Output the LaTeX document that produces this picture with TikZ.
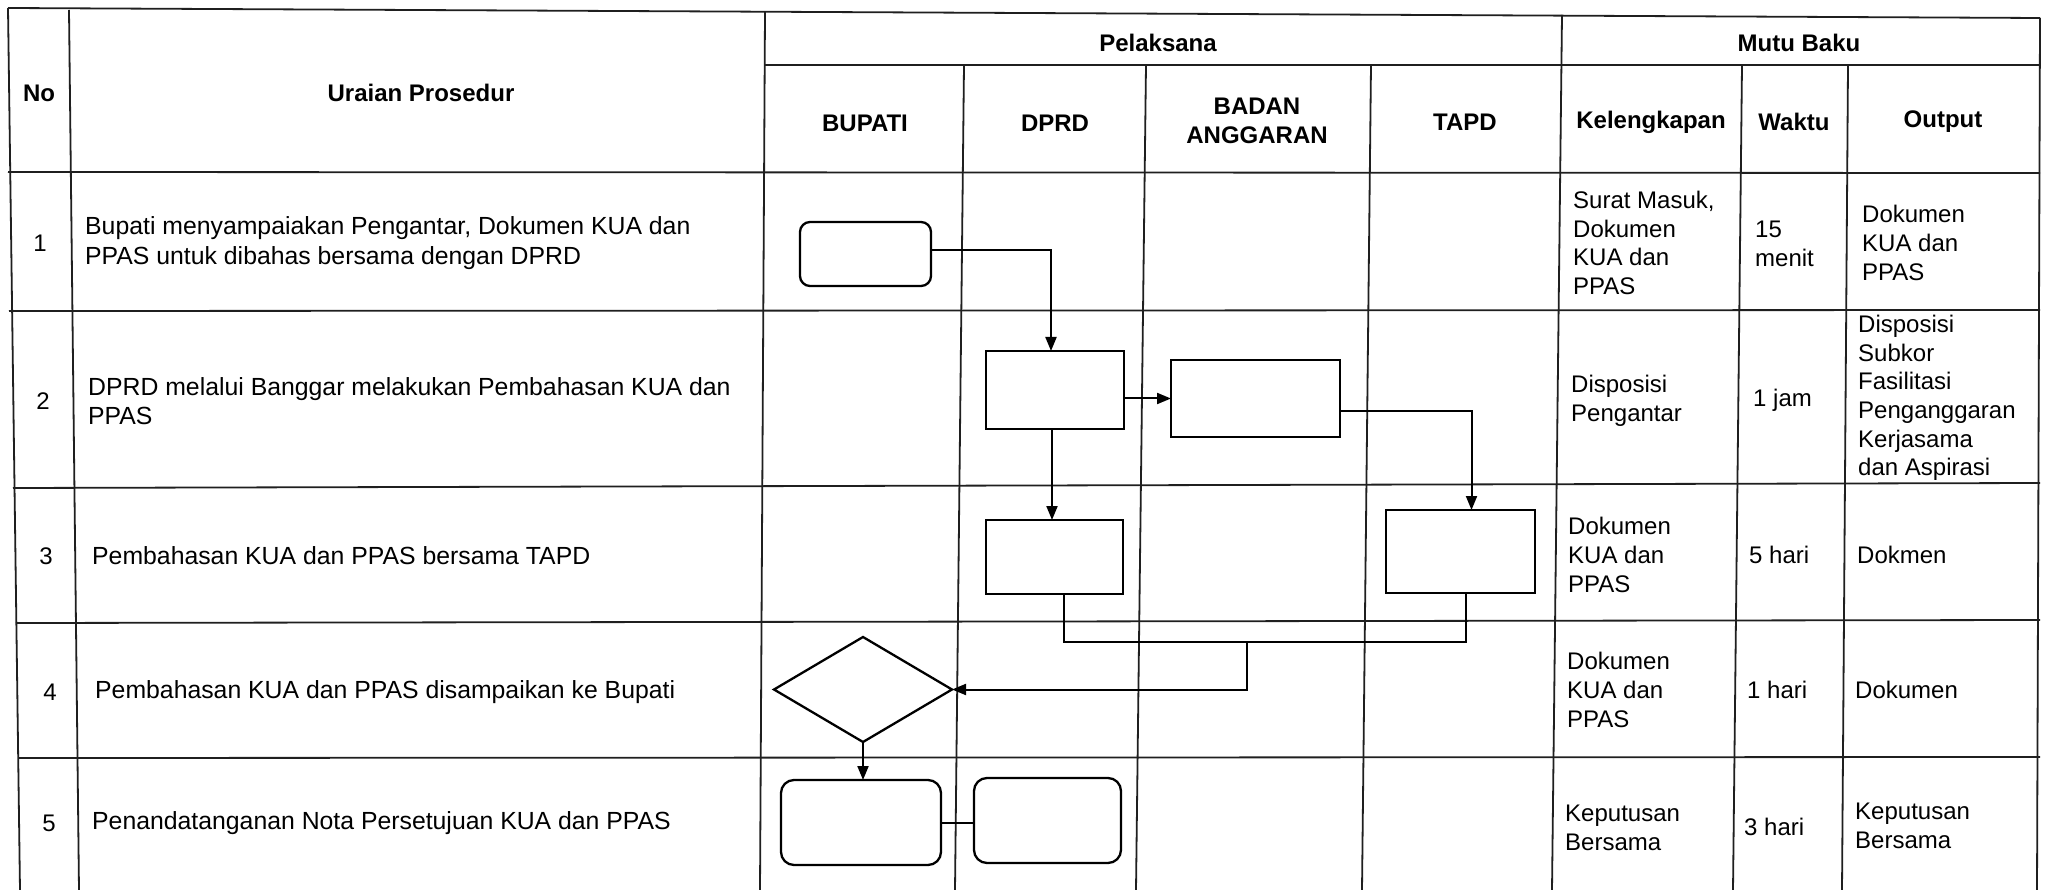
\documentclass[tikz,border=0pt]{standalone}
\usepackage{fontspec}
\setmainfont{Liberation Sans}
\usetikzlibrary{shapes.geometric,arrows.meta}
\begin{document}
\begin{tikzpicture}[x=1pt,y=-1pt,
  tline/.style={line width=1.8pt, draw=black!88},
  hdr/.style={font=\fontsize{24}{29}\selectfont\bfseries, align=center, inner sep=0pt},
  txt/.style={font=\fontsize{24}{28.6}\selectfont, align=left, inner sep=0pt, anchor=west},
  utxt/.style={txt, font=\fontsize{24.8}{29.5}\selectfont},
  num/.style={font=\fontsize{24}{28.6}\selectfont, inner sep=0pt},
  box/.style={draw, line width=2.3pt, inner sep=0pt, outer sep=0pt},
  rbox/.style={box, rounded corners=13pt},
  dbox/.style={box, diamond},
  conn/.style={line width=2pt},
  arr/.style={line width=2pt, -{Triangle[length=14pt,width=11pt]}}
]
\useasboundingbox[fill=white] (0,0) rectangle (2051,890);

% ---------- table grid ----------
\draw[tline] (8,8) -- (2040,18);
\draw[tline] (765,65) -- (2040,65);
\draw[tline] (8,172) -- (2040,173);
\draw[tline] (9,311) -- (2040,310);
\draw[tline] (13,488) -- (2040,483);
\draw[tline] (16,623) -- (2040,620);
\draw[tline] (19,758) -- (2040,757);

\draw[tline] (8,8) -- (20,890);
\draw[tline] (69,10) -- (79,890);
\draw[tline] (765,12) -- (760,890);
\draw[tline] (964,65) -- (955,890);
\draw[tline] (1146,65) -- (1136,890);
\draw[tline] (1371,65) -- (1362,890);
\draw[tline] (1562,15) -- (1552,890);
\draw[tline] (1742,65) -- (1733,890);
\draw[tline] (1848,65) -- (1842,890);
\draw[tline] (2040,18) -- (2037,890);

% ---------- header ----------
\node[hdr] (hno) at (39,93) {No};
\node[hdr] (hur) at (421,93) {Uraian Prosedur};
\node[hdr] (hpel) at (1158,43) {Pelaksana};
\node[hdr] (hmb) at (1799,43) {Mutu Baku};
\node[hdr] (hbup) at (865,123) {BUPATI};
\node[hdr] (hdprd) at (1055,123) {DPRD};
\node[hdr] (hbad) at (1257,121) {BADAN\\ANGGARAN};
\node[hdr] (htapd) at (1465,122) {TAPD};
\node[hdr] (hkel) at (1651,122) {Kelengkapan};
\node[hdr] (hwak) at (1794,122) {Waktu};
\node[hdr] (hout) at (1943,122) {Output};

% ---------- rows: numbers and procedures ----------
\node[num] (n1) at (40,243) {1};
\node[num] (n2) at (43,401) {2};
\node[num] (n3) at (46,556) {3};
\node[num] (n4) at (50,692) {4};
\node[num] (n5) at (49,823) {5};

\node[utxt] (u1) at (85,243) {Bupati menyampaiakan Pengantar, Dokumen KUA dan\\PPAS untuk dibahas bersama dengan DPRD};
\node[utxt] (u2) at (88,401) {DPRD melalui Banggar melakukan Pembahasan KUA dan\\PPAS};
\node[utxt] (u3) at (92,556) {Pembahasan KUA dan PPAS bersama TAPD};
\node[utxt] (u4) at (95,692) {Pembahasan KUA dan PPAS disampaikan ke Bupati};
\node[utxt] (u5) at (92,823) {Penandatanganan Nota Persetujuan KUA dan PPAS};

% ---------- Mutu Baku ----------
\node[txt] (k1) at (1573,243) {Surat Masuk,\\Dokumen\\KUA dan\\PPAS};
\node[txt] (w1) at (1755,244) {15\\menit};
\node[txt] (o1) at (1862,243) {Dokumen\\KUA dan\\PPAS};

\node[txt] (k2) at (1571,401) {Disposisi\\Pengantar};
\node[txt] (w2) at (1753,400) {1 jam};
\node[txt] (o2) at (1858,398) {Disposisi\\Subkor\\Fasilitasi\\Penganggaran\\Kerjasama\\dan Aspirasi};

\node[txt] (k3) at (1568,555) {Dokumen\\KUA dan\\PPAS};
\node[txt] (w3) at (1749,555) {5 hari};
\node[txt] (o3) at (1857,555) {Dokmen};

\node[txt] (k4) at (1567,690) {Dokumen\\KUA dan\\PPAS};
\node[txt] (w4) at (1747,690) {1 hari};
\node[txt] (o4) at (1855,690) {Dokumen};

\node[txt] (k5) at (1565,828) {Keputusan\\Bersama};
\node[txt] (w5) at (1744,827) {3 hari};
\node[txt] (o5) at (1855,826) {Keputusan\\Bersama};

% ---------- flow shapes ----------
\node[rbox, minimum width=131pt, minimum height=64pt, rounded corners=10pt] (b1) at (865.5,254) {};
\node[box, minimum width=138pt, minimum height=78pt] (d2) at (1055,390) {};
\node[box, minimum width=169pt, minimum height=77pt] (g2) at (1255.5,398.5) {};
\node[box, minimum width=137pt, minimum height=74pt] (d3) at (1054.5,557) {};
\node[box, minimum width=149pt, minimum height=83pt] (t3) at (1460.5,551.5) {};
\node[dbox, minimum width=178pt, minimum height=105pt] (dm4) at (863,689.5) {};
\node[rbox, minimum width=160pt, minimum height=85pt] (b5) at (861,822.5) {};
\node[rbox, minimum width=147pt, minimum height=85pt] (d5) at (1047.5,820.5) {};

\coordinate (m) at (1247,642);

% ---------- connectors ----------
\draw[arr] ([yshift=4pt]b1.east) -| ([xshift=-4pt]d2.north);
\draw[arr] ([xshift=-3pt]d2.south) -- ([xshift=-3pt]d2.south |- d3.north);
\draw[arr] (d2.east |- g2.west) -- (g2.west);
\draw[arr] ([yshift=-13pt]g2.east) -| ([xshift=11pt]t3.north);
\draw[conn] ([xshift=9pt]d3.south) |- ([xshift=5pt]t3.south |- m) -- ([xshift=5pt]t3.south);
\draw[arr] (m) |- (dm4.east);
\draw[arr] (dm4.south) -- (dm4.south |- b5.north);
\draw[conn] (b5.east) -- (b5.east -| d5.west);
\end{tikzpicture}
\end{document}
